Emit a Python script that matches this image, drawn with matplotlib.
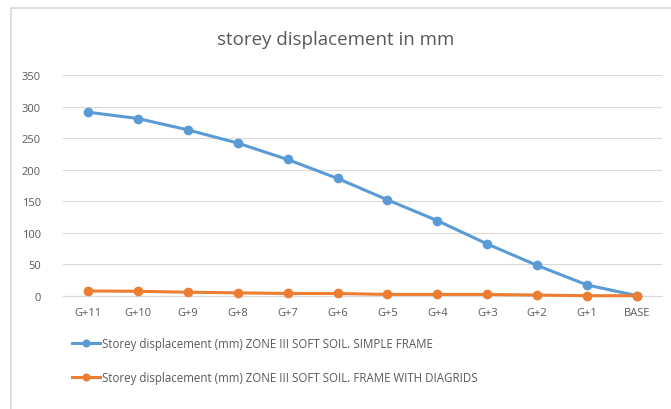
import matplotlib.pyplot as plt
from matplotlib.patches import Rectangle

storeys = ['G+11', 'G+10', 'G+9', 'G+8', 'G+7', 'G+6', 'G+5', 'G+4', 'G+3', 'G+2', 'G+1', 'BASE']
simple_frame = [291, 281, 263, 242, 216, 186, 152, 119, 82, 48, 17, 0]
diagrid_frame = [7.5, 7, 5.5, 4.5, 3.5, 3.5, 2, 2, 2, 1, 0, 0]
y_ticks = [0, 50, 100, 150, 200, 250, 300, 350]

label_simple = 'Storey displacement (mm) ZONE III SOFT SOIL. SIMPLE FRAME'
label_diagrid = 'Storey displacement (mm) ZONE III SOFT SOIL. FRAME WITH DIAGRIDS'

plt.rcParams['font.family'] = ['Open Sans', 'DejaVu Sans']
grey = '#595959'

fig = plt.figure(figsize=(6.71, 4.10), dpi=100)
fig.patches.append(Rectangle((11 / 671, -0.01), 1.0, 1.0 - 9 / 410 + 0.01,
                             transform=fig.transFigure, fill=False,
                             edgecolor='#d9d9d9', linewidth=1.2))

ax = fig.add_axes([63 / 671, 1 - 296.7 / 410, (662 - 63) / 671, (296.7 - 76) / 410])
x = range(len(storeys))
ax.plot(x, simple_frame, color='#5b9bd5', linewidth=2.2, marker='o', markersize=6,
        label=label_simple, clip_on=False, zorder=3)
ax.plot(x, diagrid_frame, color='#ed7d31', linewidth=2.2, marker='o', markersize=6,
        label=label_diagrid, clip_on=False, zorder=3)

ax.set_xlim(-0.5, len(storeys) - 0.5)
ax.set_ylim(0, 350)
ax.set_yticks(y_ticks)
ax.set_xticks(list(x))
ax.set_xticklabels(storeys)
ax.grid(axis='y', color='#d9d9d9', linewidth=0.8)
ax.set_axisbelow(True)
for s in ['top', 'right', 'left']:
    ax.spines[s].set_visible(False)
ax.spines['bottom'].set_color('#d9d9d9')
ax.tick_params(axis='both', length=0, labelsize=8, colors=grey, pad=8)
ax.tick_params(axis='y', pad=16)

fig.text(0.5, 1 - 40 / 410, 'storey displacement in mm', ha='center', va='center',
         fontsize=13.5, color=grey)

ax.legend(loc='upper left', bbox_to_anchor=(62 / 671, 1 - 328 / 410),
          bbox_transform=fig.transFigure, frameon=False, fontsize=8.3,
          labelcolor=grey, handlelength=2.4, handletextpad=0.2, labelspacing=1.75,
          markerscale=0.8)

fig.savefig('out.png', dpi=100)
